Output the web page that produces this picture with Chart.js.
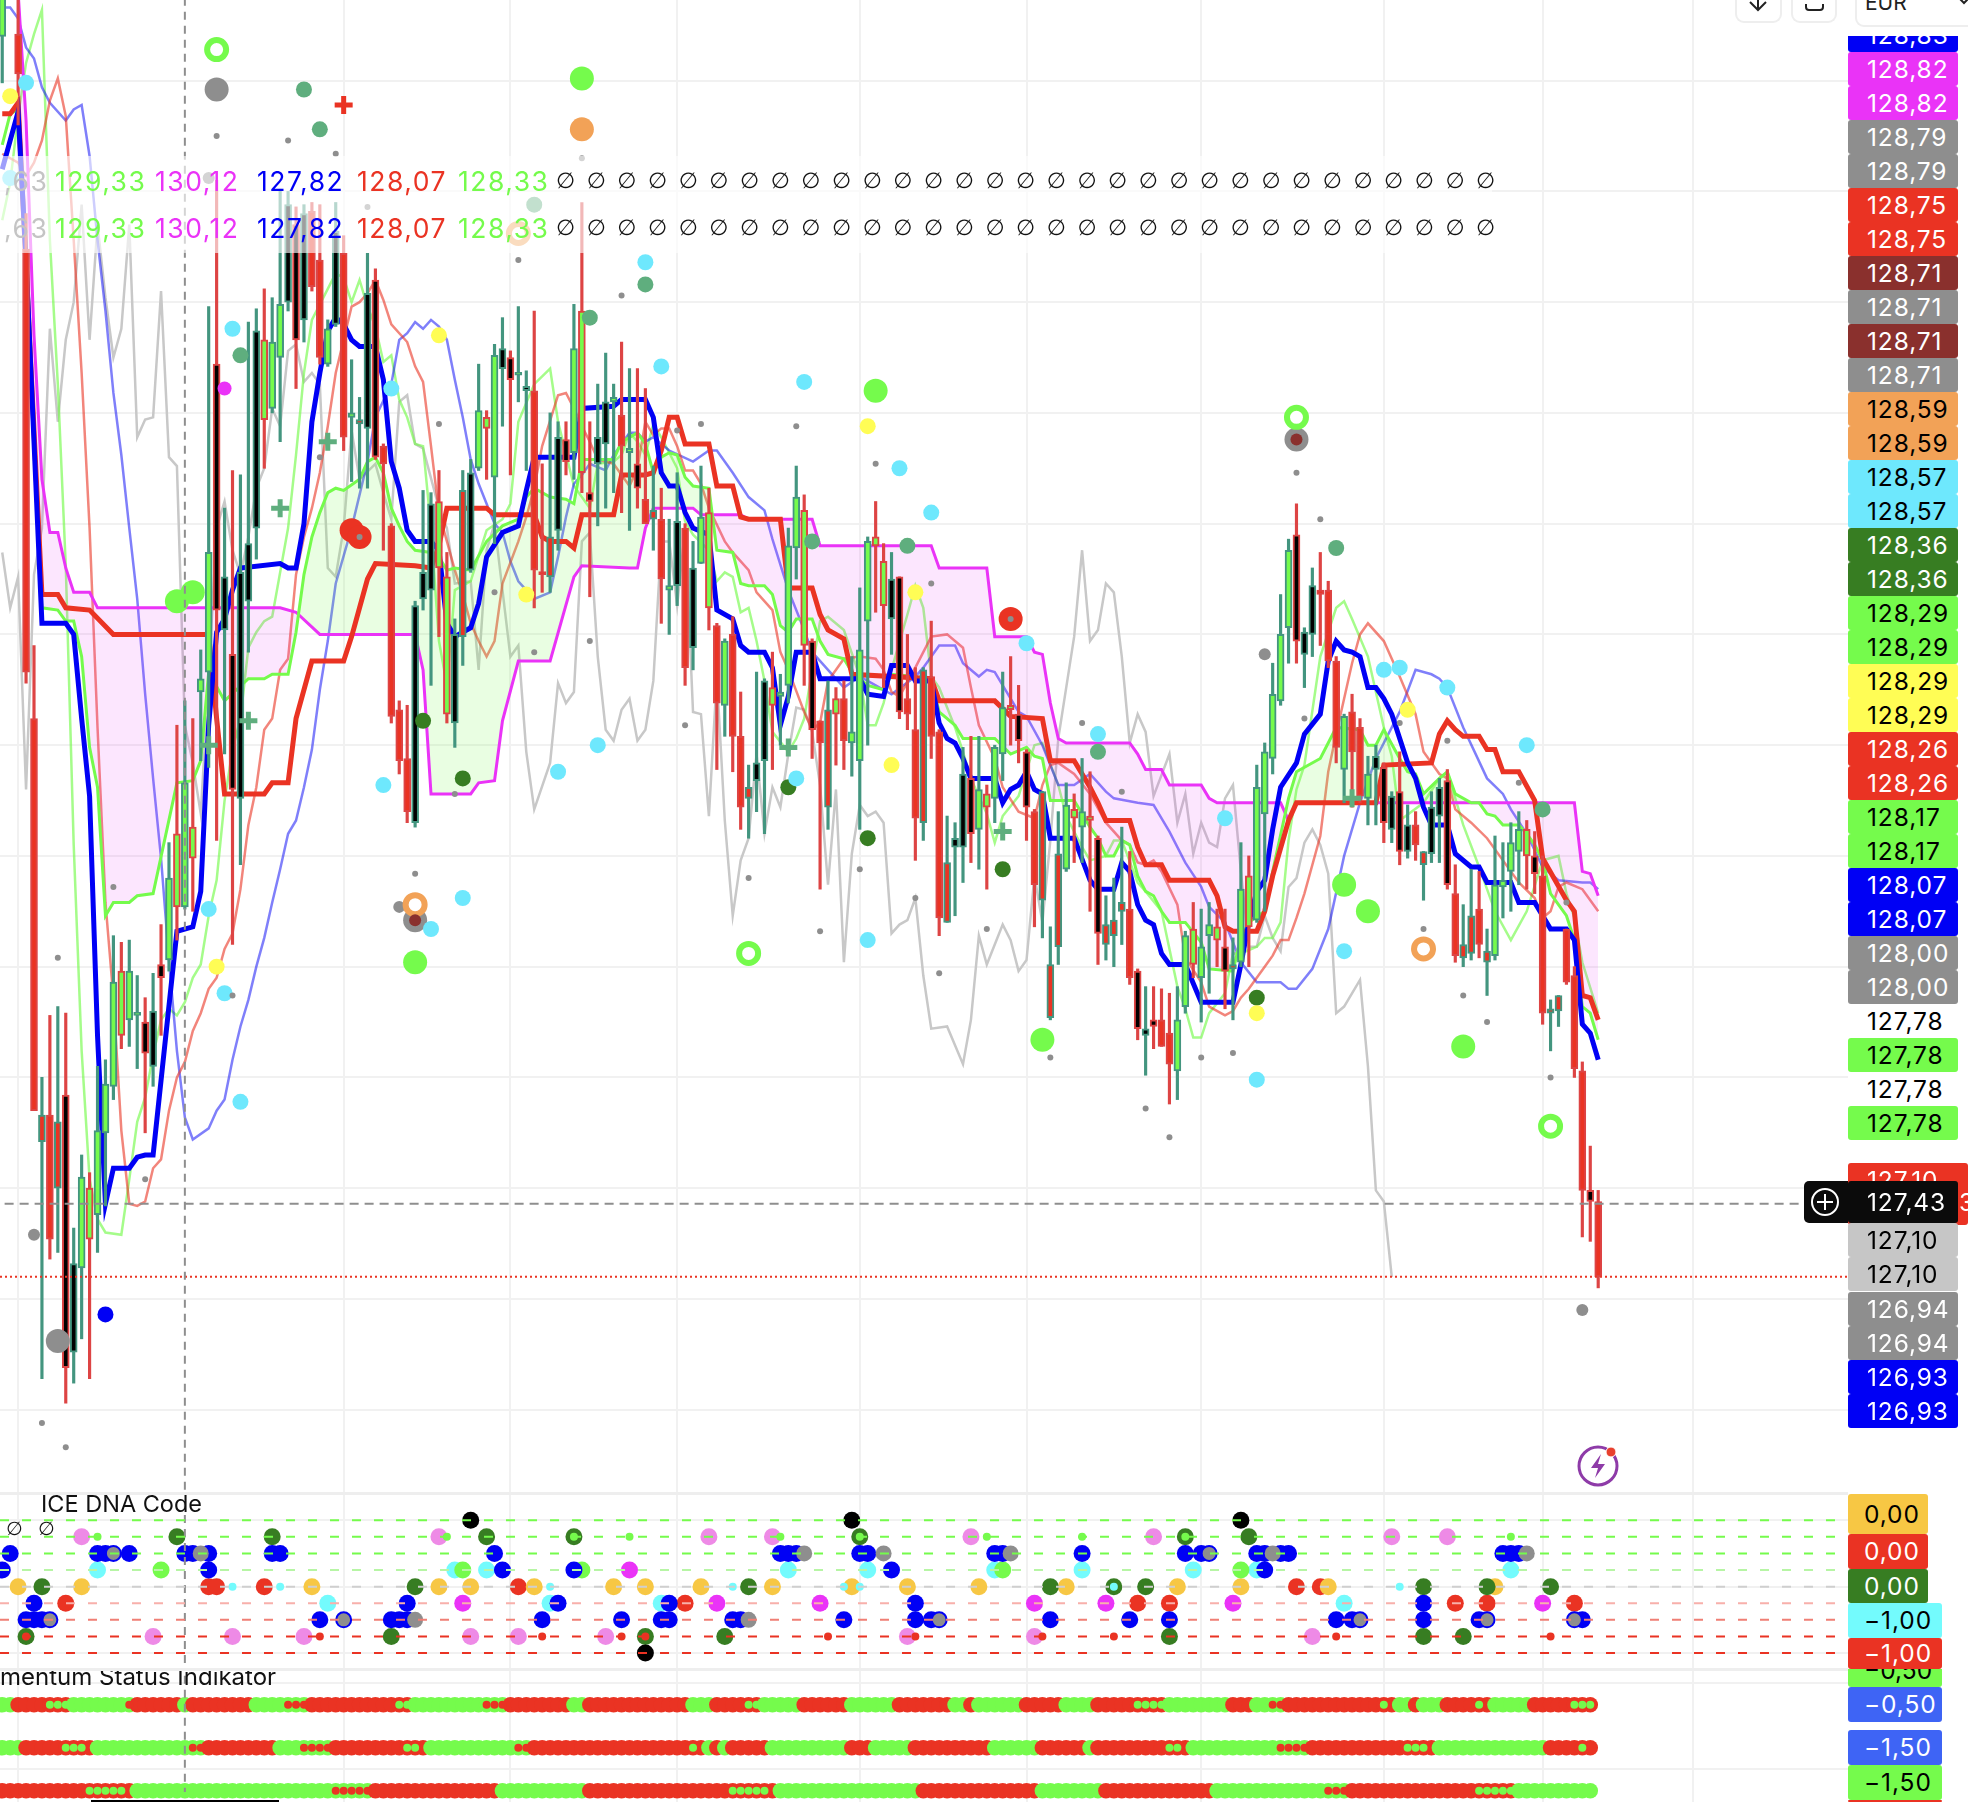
<!DOCTYPE html>
<html>
<head>
<meta charset="utf-8">
<title>ICE chart</title>
<script src="https://cdn.jsdelivr.net/npm/chart.js@4"></script>
<style>
  html, body { margin: 0; padding: 0; background: #fff; }
  #page { position: relative; width: 1968px; height: 1802px; overflow: hidden; font-family: Inter, "DejaVu Sans", sans-serif; }
  canvas { position: absolute; left: 0; }
  .abs { position: absolute; white-space: nowrap; }
  .tag { position: absolute; box-sizing: border-box; border-radius: 3px; line-height: 34px; font-size: 24.5px; white-space: nowrap; letter-spacing: 0.9px; }
  #band { position: absolute; left: 0; top: 156px; width: 1492px; height: 97px; background: rgba(255,255,255,0.62); }
  .legend { position: absolute; font-size: 26.5px; line-height: 30px; white-space: nowrap; letter-spacing: 1.5px; }
  .btn { position: absolute; box-sizing: border-box; border: 2px solid #eeeeee; border-top: none; border-radius: 0 0 9px 9px; background: #fff; }
</style>
</head>
<body>
<div id="page">
  <canvas id="mainChart" style="top:0" width="1848" height="1493"></canvas>
  <canvas id="dnaChart" style="top:1493px" width="1848" height="176"></canvas>
  <canvas id="momChart" style="top:1669px" width="1848" height="133"></canvas>
  <div id="band"></div>
  <div id="overlay"></div>
</div>
<script>
// ---- candles, one entry per bar
const candleHigh = [
  133.00,null,133.00,131.90,129.95,128.00,128.28,128.32,128.29,127.32,
  127.65,127.57,128.05,128.08,128.64,128.61,128.62,128.46,128.36,128.47,
  128.69,129.06,129.59,129.70,129.62,129.93,131.48,132.05,130.57,130.74,
  130.72,131.41,131.47,131.56,131.52,132.01,132.00,131.93,131.94,131.95,
  131.94,131.42,131.95,131.80,131.24,131.07,131.72,131.65,130.86,130.50,
  129.70,129.68,130.15,130.65,130.64,130.74,130.37,130.07,130.74,130.79,
  131.22,131.01,131.31,131.43,131.28,131.48,131.19,131.46,130.77,131.00,
  130.96,130.96,131.49,131.95,130.96,131.13,131.27,131.13,131.32,131.20,
  131.20,131.11,130.76,130.66,130.52,130.73,130.50,130.42,130.76,130.66,
  130.05,129.98,130.08,129.74,129.41,129.83,129.80,129.92,129.82,130.48,
  130.76,130.63,129.98,129.61,129.79,129.76,129.79,129.90,130.21,130.44,
  130.60,130.41,130.37,130.26,130.00,129.85,129.85,130.06,129.57,129.18,
  129.15,129.49,129.54,129.54,129.32,129.50,129.83,129.90,129.77,129.48,
  129.21,129.29,128.68,129.20,129.33,129.28,129.44,129.38,129.09,128.82,
  128.90,129.13,129.02,128.49,128.41,128.41,128.40,128.38,128.41,128.66,
  128.79,128.76,128.79,128.76,128.76,128.63,129.06,129.00,129.41,129.51,
  129.87,130.18,130.43,130.59,130.03,130.30,130.37,130.24,129.90,129.64,
  129.73,129.62,129.45,129.50,129.42,129.29,129.47,129.23,129.20,129.02,
  129.29,129.35,129.39,128.96,128.78,128.94,128.93,128.67,129.09,129.06,
  129.15,129.20,129.16,129.11,129.00,128.35,128.37,128.67,128.50,128.07,
  127.69,127.49
];
const candleLow = [
  132.49,null,132.30,129.78,127.85,126.64,127.18,127.21,126.53,126.62,
  126.82,126.64,127.21,127.42,127.90,128.13,128.14,128.04,127.75,127.96,
  128.19,128.48,128.62,128.76,128.75,129.43,129.40,129.07,129.46,128.60,
  128.96,129.92,130.34,130.75,131.00,130.87,131.46,131.11,131.32,131.55,
  131.22,131.21,131.39,130.83,130.69,130.66,130.66,130.79,130.38,129.60,
  129.37,129.15,129.13,130.11,129.77,129.99,129.60,129.49,129.86,130.28,
  130.74,130.70,130.41,130.94,130.72,131.05,130.74,130.12,130.19,130.19,
  130.38,130.72,130.70,130.64,130.17,130.49,130.57,130.64,130.55,130.47,
  130.57,130.50,130.38,130.05,130.00,130.13,129.77,129.84,130.32,130.02,
  129.39,129.54,129.38,129.12,129.08,129.20,129.10,129.39,129.50,129.69,
  130.25,129.77,129.44,128.85,129.12,129.41,129.39,129.36,129.12,129.50,
  130.10,129.76,129.91,129.62,129.57,128.98,129.07,129.44,128.64,128.70,
  128.73,128.88,128.97,128.94,128.85,129.15,129.34,129.50,129.42,129.07,
  128.68,128.63,128.26,128.51,128.93,128.97,128.97,128.75,128.51,128.53,
  128.50,128.60,128.42,128.17,128.01,128.13,128.14,127.88,127.90,128.29,
  128.45,128.25,128.38,128.50,128.31,128.26,128.50,128.50,128.70,128.75,
  129.37,129.68,129.87,129.87,129.76,129.90,129.95,129.85,129.42,129.24,
  129.22,129.24,129.14,129.14,129.06,129.06,128.96,128.99,128.98,128.80,
  128.97,128.97,128.85,128.52,128.50,128.53,128.54,128.37,128.53,128.72,
  128.75,128.87,128.85,128.83,128.24,128.12,128.23,128.42,128.00,127.28,
  127.26,127.05
];
const candleTop = [
  132.90,null,132.71,131.74,129.62,127.83,127.83,127.80,127.92,127.16,
  127.55,127.50,127.76,127.97,128.43,128.48,128.48,128.29,128.25,128.30,
  128.51,128.90,129.10,129.33,129.13,129.80,130.37,131.22,130.26,129.91,
  130.28,130.41,131.37,131.33,131.32,131.49,131.94,131.85,131.90,131.91,
  131.69,131.38,131.82,131.72,131.00,130.97,131.54,131.60,130.85,130.49,
  129.66,129.44,130.13,130.28,130.59,130.60,130.26,130.00,130.65,130.73,
  131.01,130.98,131.26,131.29,131.25,131.18,131.12,131.10,130.28,130.44,
  130.89,130.88,131.29,131.46,130.64,130.89,131.05,131.07,130.99,130.84,
  130.77,130.61,130.56,130.52,130.22,130.51,130.48,130.30,130.53,130.55,
  130.04,129.97,130.00,129.54,129.31,129.42,129.79,129.76,129.74,130.40,
  130.62,130.56,129.97,129.61,129.66,129.71,129.71,129.56,129.93,130.42,
  130.44,130.33,130.25,130.26,129.71,129.57,129.84,129.81,129.56,128.97,
  129.08,129.37,129.35,129.30,129.28,129.49,129.67,129.68,129.64,129.47,
  129.20,129.29,128.51,129.01,129.23,129.21,129.20,129.18,129.08,128.69,
  128.71,128.79,128.76,128.48,128.22,128.26,128.26,128.20,128.26,128.64,
  128.67,128.59,128.69,128.68,128.59,128.51,128.85,128.91,129.31,129.47,
  129.73,130.00,130.38,130.45,130.01,130.22,130.20,130.20,129.88,129.63,
  129.65,129.58,129.37,129.45,129.40,129.27,129.29,129.14,129.14,129.02,
  129.22,129.31,129.34,128.83,128.60,128.73,128.76,128.57,128.87,128.89,
  129.06,129.12,129.12,129.00,128.91,128.31,128.37,128.67,128.46,128.03,
  127.49,127.44
];
const candleBottom = [
  132.70,null,132.53,129.83,127.85,127.71,127.27,127.50,126.69,126.76,
  127.14,127.27,127.38,127.75,127.96,128.19,128.26,128.28,128.11,128.05,
  128.45,128.53,128.77,128.77,128.99,129.74,129.83,130.11,130.02,129.30,
  129.26,130.15,130.48,130.97,131.02,131.25,131.50,131.33,131.42,131.57,
  131.25,131.22,131.40,130.89,130.98,130.95,130.93,130.80,130.77,129.63,
  129.43,129.20,129.15,130.16,130.20,130.30,129.64,129.60,129.99,130.29,
  130.75,130.93,130.71,131.20,131.15,131.17,131.10,130.29,130.27,130.26,
  130.47,130.78,130.82,130.73,130.60,130.77,130.86,131.05,130.85,130.82,
  130.66,130.50,130.52,130.25,130.20,130.22,129.85,129.94,130.32,130.12,
  129.69,129.68,129.54,129.22,129.26,129.34,129.43,129.68,129.72,129.77,
  130.39,129.95,129.57,129.51,129.22,129.64,129.52,129.51,129.43,130.06,
  130.40,130.13,130.07,129.65,129.64,129.17,129.15,129.54,128.72,128.70,
  129.04,129.04,129.10,129.12,129.22,129.26,129.46,129.66,129.52,129.22,
  128.87,128.80,128.27,128.59,128.94,129.17,129.13,129.16,128.65,128.60,
  128.64,128.75,128.45,128.22,128.19,128.23,128.14,128.06,128.03,128.32,
  128.51,128.45,128.64,128.62,128.48,128.49,128.52,128.68,128.71,129.19,
  129.44,129.70,130.03,129.97,129.91,130.00,130.18,129.88,129.49,129.39,
  129.47,129.27,129.26,129.39,129.15,129.12,129.02,129.02,129.05,128.96,
  129.01,129.18,128.87,128.55,128.54,128.56,128.60,128.52,128.55,128.86,
  128.93,129.02,129.00,128.92,128.29,128.29,128.30,128.43,128.04,127.49,
  127.44,127.10
];
// L teal+lime, B teal+black, T teal+red, R solid red, K red+black, M red+lime
const candleKind = (
  'LxRRRTRTKB' + 'LMLLLMLLKB' + 'KLMLMLLKBK' + 'BBBMLLBKBR' + 'RLBRLTBKRR' +
  'RRBBBMMBTB' + 'LMLBKLBRRT' + 'BKLMKBBLRL' + 'KRTRLBRBLM' + 'RLRRTBBMLL' +
  'LMKRTMRLLL' + 'MMBKRRTRRT' + 'BBKLMLLMKK' + 'RTTTLMLMKT' + 'TTRKBKRRLL' +
  'MLLMKTLMLL' + 'LLLKBBRRRL' + 'RRLBKBKBRT' + 'BBKRTTRTLL' + 'LLMKRTTRRR' + 'KR'
).split('');

// ---- indicator lines as [bar, price] vertices
const fastBlue = [[0,132.10],[2,132.36],[3,131.69],[5,130.05],[8,130.05],[9,130.00],[10,129.62],[11,129.27],[12,128.19],[13,127.43],[14,127.59],[16,127.59],[17,127.64],[18,127.65],[19,127.65],[22,128.66],[24,128.68],[25,128.84],[26,129.59],[27,130.01],[28,130.07],[29,130.20],[30,130.30],[35,130.32],[36,130.30],[37,130.30],[38,130.50],[39,130.96],[40,131.18],[41,131.37],[42,131.43],[43,131.40],[44,131.33],[45,131.30],[47,131.30],[48,131.15],[49,130.78],[50,130.66],[51,130.47],[52,130.42],[54,130.42],[55,130.38],[56,130.05],[57,129.99],[59,130.03],[60,130.14],[61,130.35],[63,130.46],[65,130.49],[66,130.65],[67,130.80],[72,130.80],[73,131.02],[77,131.03],[78,131.06],[81,131.06],[82,130.98],[83,130.73],[84,130.67],[85,130.67],[86,130.55],[87,130.48],[89,130.45],[90,130.11],[92,130.07],[93,129.95],[94,129.92],[96,129.92],[97,129.85],[98,129.59],[99,129.72],[100,129.92],[102,129.92],[103,129.80],[108,129.80],[109,129.73],[111,129.72],[112,129.86],[114,129.86],[115,129.79],[117,129.79],[118,129.60],[119,129.53],[120,129.51],[121,129.44],[122,129.35],[125,129.35],[126,129.24],[127,129.30],[128,129.32],[129,129.38],[130,129.30],[131,129.28],[132,129.08],[135,129.08],[137,128.89],[138,128.85],[140,128.85],[141,128.97],[142,128.93],[143,128.78],[144,128.71],[145,128.69],[146,128.56],[147,128.51],[149,128.51],[151,128.34],[155,128.34],[156,128.51],[157,128.70],[158,128.84],[159,128.89],[160,129.12],[161,129.31],[163,129.42],[164,129.55],[166,129.64],[167,129.88],[168,129.97],[169,129.93],[170,129.92],[171,129.90],[172,129.76],[173,129.76],[174,129.71],[175,129.64],[177,129.42],[178,129.35],[179,129.22],[180,129.14],[182,129.14],[183,129.01],[185,128.95],[186,128.95],[187,128.88],[190,128.88],[191,128.79],[193,128.79],[195,128.67],[197,128.67],[198,128.62],[199,128.24],[200,128.20],[201,128.08]];
const slowRed = [[0,132.35],[1,132.35],[2,132.40],[5,130.18],[7,130.18],[8,130.12],[11,130.11],[14,130.00],[26,130.00],[27,129.62],[28,129.28],[33,129.28],[34,129.33],[36,129.33],[37,129.62],[39,129.88],[43,129.88],[44,129.99],[46,130.25],[47,130.32],[52,130.31],[54,130.30],[55,130.40],[56,130.57],[61,130.57],[62,130.54],[67,130.54],[68,130.44],[69,130.42],[71,130.42],[72,130.39],[73,130.54],[77,130.54],[78,130.72],[81,130.72],[82,130.73],[83,130.83],[84,130.98],[85,130.98],[86,130.86],[89,130.86],[90,130.67],[92,130.67],[93,130.53],[94,130.52],[98,130.52],[99,130.21],[102,130.21],[103,130.09],[104,130.02],[106,129.98],[107,129.82],[117,129.80],[118,129.70],[125,129.70],[127,129.63],[131,129.62],[132,129.43],[135,129.43],[137,129.31],[138,129.24],[139,129.16],[142,129.16],[143,129.04],[144,128.96],[146,128.96],[147,128.89],[152,128.89],[153,128.82],[154,128.68],[155,128.66],[158,128.66],[159,128.75],[160,128.91],[162,129.16],[163,129.24],[173,129.24],[174,129.41],[180,129.42],[181,129.55],[182,129.61],[183,129.57],[184,129.54],[186,129.54],[187,129.48],[188,129.48],[189,129.38],[191,129.38],[193,129.25],[194,128.99],[197,128.80],[198,128.75],[199,128.37],[200,128.36],[201,128.26]];
const cloudMagenta = [[2,132.90],[3,132.32],[4,131.35],[5,130.70],[6,130.46],[7,130.46],[8,130.30],[9,130.19],[11,130.19],[12,130.12],[35,130.12],[37,130.10],[40,130.00],[52,130.00],[53,129.84],[54,129.28],[59,129.28],[60,129.33],[62,129.34],[63,129.61],[65,129.88],[69,129.88],[72,130.26],[73,130.31],[79,130.30],[80,130.30],[81,130.48],[82,130.57],[87,130.57],[88,130.54],[93,130.54],[94,130.52],[102,130.52],[103,130.40],[117,130.40],[118,130.30],[124,130.30],[125,129.99],[129,129.99],[130,129.92],[131,129.91],[132,129.69],[133,129.53],[134,129.51],[142,129.51],[143,129.46],[144,129.39],[146,129.39],[147,129.32],[151,129.32],[152,129.26],[153,129.24],[161,129.24],[162,129.16],[163,129.24],[198,129.24],[199,128.93],[200,128.92],[201,128.82]];
const cloudGreen = [[0,132.21],[1,132.35],[2,132.37],[3,131.78],[5,130.12],[7,130.11],[8,130.06],[9,130.06],[10,129.90],[11,129.49],[12,129.31],[13,128.73],[14,128.79],[16,128.79],[17,128.82],[19,128.83],[22,129.33],[24,129.34],[25,129.43],[26,129.83],[28,129.70],[31,129.80],[33,129.80],[34,129.82],[36,129.82],[37,130.01],[38,130.27],[39,130.44],[40,130.55],[41,130.64],[42,130.66],[43,130.65],[45,130.70],[46,130.78],[47,130.80],[48,130.73],[49,130.57],[50,130.49],[51,130.42],[52,130.38],[54,130.37],[55,130.35],[56,130.29],[57,130.30],[59,130.29],[61,130.42],[63,130.49],[65,130.52],[66,130.62],[67,130.66],[69,130.62],[71,130.61],[72,130.59],[73,130.79],[77,130.79],[78,130.87],[80,130.91],[81,130.86],[82,130.73],[83,130.80],[84,130.82],[85,130.81],[86,130.71],[87,130.67],[89,130.66],[90,130.38],[92,130.37],[93,130.23],[94,130.22],[96,130.22],[97,130.18],[98,130.04],[99,130.01],[100,130.07],[102,130.07],[103,129.97],[104,129.91],[106,129.89],[107,129.83],[109,129.77],[111,129.75],[112,129.82],[115,129.81],[117,129.79],[118,129.65],[120,129.59],[121,129.53],[122,129.53],[125,129.53],[127,129.46],[129,129.49],[130,129.45],[131,129.44],[132,129.25],[135,129.25],[137,129.13],[138,129.08],[139,129.00],[140,129.00],[141,129.07],[142,129.05],[143,128.91],[144,128.84],[145,128.82],[146,128.75],[147,128.70],[149,128.70],[151,128.61],[152,128.49],[155,128.48],[156,128.63],[157,128.70],[159,128.75],[160,128.93],[162,129.26],[163,129.38],[166,129.44],[168,129.58],[171,129.57],[172,129.50],[173,129.50],[174,129.57],[176,129.44],[177,129.38],[178,129.37],[179,129.28],[181,129.35],[182,129.38],[183,129.28],[185,129.24],[186,129.24],[187,129.19],[188,129.18],[189,129.14],[191,129.14],[192,129.10],[193,129.05],[194,128.98],[195,128.83],[197,128.73],[198,128.62],[199,128.32],[200,128.29],[201,128.17]];
const thinRed = [[0,132.17],[2,132.13],[3,132.07],[4,132.13],[5,132.23],[6,132.41],[7,132.51],[8,132.34],[9,131.78],[10,131.18],[11,130.48],[12,129.58],[13,128.79],[14,128.36],[15,127.76],[16,127.43],[17,127.42],[18,127.44],[19,127.59],[20,127.63],[21,127.85],[22,128.00],[23,128.07],[24,128.21],[25,128.29],[26,128.40],[27,128.45],[28,128.58],[29,128.65],[30,128.85],[31,129.14],[32,129.31],[33,129.57],[34,129.62],[35,129.84],[36,129.89],[37,130.27],[38,130.44],[39,130.57],[40,130.73],[41,130.94],[42,131.18],[44,131.48],[45,131.50],[46,131.54],[47,131.60],[48,131.51],[49,131.40],[51,131.32],[52,131.21],[53,131.14],[54,130.85],[55,130.55],[57,130.29],[58,130.18],[59,130.05],[60,129.97],[61,129.90],[62,129.97],[63,130.23],[65,130.42],[66,130.53],[67,130.66],[68,130.85],[70,131.08],[71,131.09],[72,131.02],[73,130.94],[74,130.87],[75,130.79],[77,130.77],[78,130.72],[79,130.67],[80,130.75],[81,130.96],[82,130.90],[83,130.93],[84,130.93],[85,130.85],[86,130.74],[87,130.74],[88,130.68],[89,130.57],[91,130.42],[92,130.37],[94,130.29],[95,130.19],[97,130.11],[98,129.92],[99,129.84],[101,129.65],[102,129.57],[103,129.60],[104,129.79],[106,129.89],[108,129.90],[110,129.89],[111,129.84],[112,129.74],[113,129.72],[115,129.85],[117,129.99],[119,130.00],[121,129.94],[122,129.76],[123,129.59],[125,129.44],[126,129.31],[128,129.20],[130,129.17],[131,129.32],[132,129.41],[133,129.42],[135,129.37],[137,129.28],[139,129.15],[141,129.07],[142,129.05],[143,128.97],[144,128.96],[145,128.98],[146,128.93],[148,128.78],[149,128.54],[151,128.43],[152,128.32],[154,128.28],[155,128.30],[156,128.36],[157,128.40],[159,128.50],[160,128.55],[161,128.62],[162,128.62],[163,128.72],[164,128.83],[166,129.09],[167,129.38],[168,129.55],[170,129.87],[171,130.00],[172,130.05],[174,129.97],[176,129.81],[178,129.64],[179,129.47],[181,129.37],[182,129.35],[183,129.21],[185,129.15],[187,129.08],[189,128.98],[191,128.88],[193,128.81],[194,128.72],[195,128.75],[196,128.86],[197,128.88],[199,128.85],[200,128.80],[201,128.75]];
const thinBlue = [[0,132.83],[1,132.83],[2,132.78],[3,132.65],[4,132.60],[5,132.47],[6,132.40],[8,132.32],[9,132.37],[10,132.39],[11,132.16],[12,131.78],[13,131.46],[14,131.09],[15,130.81],[16,130.48],[17,130.16],[18,129.73],[19,129.35],[20,128.99],[21,128.53],[22,128.12],[23,127.82],[24,127.72],[26,127.77],[27,127.85],[28,127.90],[29,128.08],[30,128.23],[31,128.35],[32,128.50],[33,128.63],[34,128.79],[35,128.94],[36,129.10],[37,129.16],[38,129.31],[39,129.48],[40,129.75],[41,129.97],[42,130.23],[44,130.48],[46,130.78],[47,130.98],[49,131.13],[50,131.33],[51,131.36],[52,131.41],[53,131.38],[54,131.42],[55,131.39],[56,131.33],[57,131.15],[58,130.98],[59,130.79],[60,130.68],[61,130.59],[62,130.50],[63,130.46],[64,130.33],[65,130.24],[66,130.20],[67,130.16],[69,130.19],[70,130.35],[71,130.53],[72,130.68],[73,130.72],[74,130.77],[76,130.74],[77,130.81],[78,130.86],[79,130.91],[80,130.91],[81,130.87],[82,130.89],[84,130.83],[87,130.78],[89,130.83],[90,130.83],[92,130.73],[94,130.62],[96,130.56],[97,130.43],[99,130.20],[101,130.02],[102,129.92],[104,129.84],[106,129.76],[108,129.81],[110,129.77],[112,129.73],[115,129.81],[116,129.85],[118,129.95],[120,129.95],[121,129.87],[123,129.81],[124,129.84],[125,129.83],[128,129.65],[129,129.63],[131,129.50],[133,129.32],[135,129.32],[137,129.37],[139,129.29],[140,129.26],[143,129.24],[145,129.23],[147,129.11],[149,128.97],[151,128.86],[152,128.77],[154,128.70],[156,128.52],[158,128.43],[161,128.43],[162,128.40],[163,128.40],[165,128.49],[167,128.67],[169,129.00],[171,129.24],[173,129.44],[176,129.65],[178,129.84],[180,129.82],[181,129.80],[182,129.76],[184,129.58],[187,129.35],[189,129.28],[190,129.21],[192,129.10],[194,128.95],[196,128.89],[199,128.88],[200,128.88],[201,128.85]];
const thinGreen = [[0,131.87],[1,132.04],[2,132.34],[3,132.58],[4,132.71],[5,132.82],[6,131.78],[7,131.13],[8,130.31],[9,129.05],[10,128.12],[11,127.54],[12,127.36],[13,127.30],[15,127.29],[16,127.54],[17,127.80],[18,127.91],[19,128.10],[20,128.26],[21,128.31],[22,128.28],[23,128.34],[24,128.45],[25,128.51],[26,128.73],[27,128.89],[28,129.25],[29,129.48],[30,129.62],[31,129.94],[32,130.01],[33,130.06],[34,130.08],[36,130.48],[37,130.81],[38,131.18],[39,131.42],[41,131.56],[42,131.63],[43,131.61],[44,131.50],[45,131.60],[46,131.48],[47,131.39],[48,131.23],[49,131.26],[50,131.06],[51,130.98],[52,130.86],[53,130.85],[54,130.48],[55,129.97],[56,129.77],[57,130.20],[59,130.24],[61,130.47],[63,130.52],[64,130.59],[65,130.96],[67,131.13],[69,131.20],[70,130.96],[72,130.67],[74,130.57],[75,130.77],[77,130.78],[78,130.81],[79,130.91],[80,130.87],[81,130.81],[82,130.95],[83,130.89],[84,130.82],[85,130.75],[86,130.51],[87,130.45],[89,130.38],[90,130.24],[91,130.28],[92,130.26],[93,130.10],[94,130.12],[95,129.97],[96,129.79],[97,129.56],[99,129.47],[100,129.53],[101,129.62],[102,129.84],[103,130.06],[104,130.08],[106,130.02],[108,129.81],[109,129.59],[110,129.59],[111,129.69],[112,129.84],[114,130.09],[115,130.22],[116,130.12],[117,129.81],[118,129.76],[120,129.58],[121,129.47],[122,129.35],[124,129.19],[125,129.06],[126,129.18],[128,129.27],[130,129.50],[131,129.51],[133,129.32],[134,129.18],[136,129.04],[137,128.98],[139,129.00],[140,129.07],[141,129.07],[143,128.88],[144,128.84],[146,128.75],[148,128.41],[149,128.31],[150,128.18],[151,128.18],[152,128.29],[154,128.38],[155,128.56],[156,128.56],[158,128.59],[159,128.63],[160,128.63],[161,128.70],[162,129.07],[163,129.30],[164,129.41],[166,129.90],[168,130.12],[169,130.15],[170,130.07],[172,129.90],[174,129.58],[175,129.45],[176,129.16],[179,129.24],[181,129.35],[182,129.38],[184,129.14],[186,128.95],[188,128.75],[190,128.62],[192,128.75],[194,128.98],[196,129.00],[197,128.83],[198,128.72],[199,128.52],[201,128.29]];
const thinGray = [[0,130.37],[1,130.12],[2,130.26],[3,129.30],[4,130.27],[5,130.48],[6,131.38],[7,130.96],[8,131.33],[9,131.50],[10,131.94],[11,131.33],[12,131.85],[13,131.52],[14,131.25],[15,131.38],[16,131.85],[17,130.89],[18,130.97],[19,130.98],[20,131.55],[21,130.80],[22,130.76],[23,129.59],[24,129.42],[25,129.19],[26,129.80],[27,130.48],[28,130.60],[29,130.38],[30,130.27],[31,130.44],[32,130.66],[33,130.75],[34,131.02],[35,130.94],[36,131.28],[37,131.31],[38,131.14],[39,131.18],[40,131.13],[41,130.30],[42,130.26],[43,130.48],[44,130.92],[45,130.70],[47,130.77],[48,130.64],[49,130.52],[50,131.05],[51,131.08],[52,130.86],[53,130.84],[55,130.57],[56,130.48],[57,130.23],[59,130.24],[60,129.84],[61,130.38],[62,130.50],[64,129.90],[65,129.95],[66,129.47],[67,129.21],[69,129.42],[70,129.78],[71,129.69],[72,129.74],[73,130.42],[74,130.46],[75,129.90],[76,129.57],[77,129.52],[78,129.66],[79,129.71],[80,129.52],[81,129.57],[82,129.79],[83,130.42],[84,130.42],[85,130.13],[86,130.48],[87,129.65],[88,129.64],[89,129.18],[90,129.81],[91,129.16],[92,128.73],[93,128.98],[94,129.08],[95,129.46],[96,129.10],[97,129.31],[98,129.22],[99,129.46],[100,129.67],[101,129.66],[102,129.56],[103,129.32],[104,128.87],[105,129.30],[106,128.52],[107,129.01],[108,129.23],[109,129.18],[110,129.20],[111,129.15],[112,128.65],[113,128.69],[114,128.71],[115,128.81],[116,128.46],[117,128.22],[119,128.23],[121,128.06],[122,128.26],[123,128.64],[124,128.51],[126,128.69],[127,128.62],[128,128.48],[129,128.53],[130,128.91],[131,128.70],[132,129.07],[133,129.53],[135,129.99],[136,130.38],[137,129.97],[138,130.02],[139,130.23],[140,130.19],[141,129.90],[142,129.51],[143,129.64],[144,129.56],[145,129.27],[147,129.46],[148,129.15],[149,129.28],[150,129.01],[151,129.15],[152,129.06],[153,129.04],[154,129.26],[155,129.32],[156,128.93],[157,128.59],[158,128.59],[159,128.73],[160,128.63],[161,128.57],[162,128.86],[163,128.90],[164,129.06],[165,129.12],[166,129.05],[167,128.92],[168,128.29],[169,128.32],[171,128.44],[172,128.05],[173,127.49],[174,127.44],[175,127.10]];

// ---- markers on the price pane, [bar, price]
const dotCyan = [[1,132.06],[3,132.49],[29,131.38],[49,131.11],[48,129.32],[26,128.76],[28,128.38],[30,127.89],[54,128.67],[58,128.81],[70,129.38],[75,129.50],[81,131.68],[83,131.21],[101,131.14],[113,130.75],[117,130.55],[100,129.35],[109,128.62],[129,129.96],[138,129.55],[154,129.17],[169,128.57],[158,127.99],[174,129.84],[176,129.85],[182,129.76],[192,129.50]];
const dotYellow = [[1,132.43],[55,131.35],[27,128.50],[115,130.19],[109,130.94],[112,129.41],[66,130.18],[177,129.66],[158,128.29]];
const dotGreenBig = [[22,130.15],[24,130.19],[73,132.51],[52,128.52],[110,131.10],[169,128.87],[172,128.75],[131,128.17],[184,128.14]];
const ringGreen = [[27,132.64],[94,128.56],[163,130.98],[195,127.78]];
const dotGrayBig = [[27,132.46],[7,126.81],[52,128.71],[163,130.88]];
const dotDarkRed = [[52,128.71],[163,130.88]];
const ringOrange = [[52,128.78],[179,128.58],[65,131.81]];
const dotOrangeBig = [[73,132.28]];
const dotGrayMid = [[4,127.29],[50,128.77],[159,129.91],[26,132.06],[199,126.95]];
const dotGraySmall = [[27,132.25],[36,132.23],[42,132.17],[73,132.15],[46,131.93],[65,131.69],[78,131.53],[55,130.95],[40,130.80],[62,130.19],[74,129.97],[67,129.92],[14,128.86],[7,128.54],[18,127.54],[29,128.37],[52,128.92],[5,126.44],[8,126.33],[57,129.28],[85,130.92],[88,130.95],[100,130.94],[110,130.77],[117,130.23],[86,129.59],[94,128.90],[103,128.66],[108,128.94],[115,128.81],[118,128.47],[124,128.67],[136,129.60],[141,129.29],[132,128.09],[151,128.09],[155,128.11],[144,127.86],[147,127.73],[163,130.73],[166,130.52],[164,129.62],[176,129.60],[182,129.52],[191,129.33],[179,128.67],[184,128.37],[187,128.25],[195,128.00],[197,128.79],[45,130.44],[127,130.07]];
const dotDarkGreen = [[53,129.61],[58,129.35],[99,129.31],[109,129.08],[126,128.94],[158,128.36]];
const dotMidGreen = [[38,132.46],[40,132.28],[67,131.94],[81,131.58],[74,131.43],[30,131.26],[102,130.42],[114,130.40],[138,129.47],[194,129.21],[168,130.39]];
const plusGreen = [[41,130.87],[35,130.57],[31,129.61],[26,129.50],[99,129.49],[126,129.11],[170,129.26]];
const plusRed = [[43,132.39]];
const dotRedBig = [[44,130.47],[45,130.44],[127,130.07]];
const dotMagenta = [[28,131.11]];
const dotBlue = [[13,126.93]];

// ---- reference lines and grids
const crossBar = 23;
const crossPrice = 127.43;
const lastPrice = 127.10;
const priceGrid = [132.5,132,131.5,131,130.5,130,129.5,129,128.5,128,127.5,127,126.5];
const barGrid = [2,43,64,85,108,129,151,174,194,213];

// ---- ICE DNA pane, [bar, level]
const dnaLevels = [4,3,2,1,0,-1,-2,-3,-4];
const dnaBlack = [[59,4],[107,4],[156,4],[81,-4]];
const dnaPink = [[10,3],[55,3],[89,3],[97,3],[122,3],[145,3],[175,3],[182,3],[19,-3],[29,-3],[38,-3],[59,-3],[65,-3],[76,-3],[114,-3],[130,-3],[165,-3]];
const dnaGreenSmall = [[12,3],[56,3],[79,3],[98,3],[124,3],[136,3],[190,3],[72,3],[108,3],[149,3]];
const dnaDarkGreen = [[22,3],[34,3],[61,3],[157,3],[72,3],[108,3],[149,3],[5,0],[52,0],[94,0],[132,0],[140,0],[144,0],[179,0],[187,0],[195,0],[3,-3],[49,-3],[81,-3],[91,-3],[147,-3],[179,-3],[184,-3]];
const dnaBlue = [[1,2],[12,2],[13,2],[16,2],[23,2],[24,2],[26,2],[34,2],[35,2],[62,2],[98,2],[99,2],[100,2],[108,2],[109,2],[125,2],[126,2],[136,2],[149,2],[151,2],[158,2],[159,2],[161,2],[162,2],[189,2],[190,2],[191,2],[0,1],[26,1],[63,1],[72,1],[112,1],[159,1],[4,-1],[51,-1],[70,-1],[84,-1],[115,-1],[179,-1],[3,-2],[4,-2],[5,-2],[40,-2],[49,-2],[50,-2],[51,-2],[68,-2],[78,-2],[83,-2],[84,-2],[92,-2],[93,-2],[106,-2],[115,-2],[117,-2],[132,-2],[142,-2],[147,-2],[168,-2],[170,-2],[179,-2],[186,-2],[199,-2]];
const dnaGrayRing = [[14,2],[152,2],[6,-2],[43,-2],[118,-2],[171,-2],[187,-2],[198,-2]];
const dnaGray = [[25,2],[101,2],[111,2],[127,2],[160,2],[192,2],[52,-2],[94,-2]];
const dnaCyan = [[12,1],[57,1],[61,1],[99,1],[109,1],[125,1],[136,1],[150,1],[158,1],[190,1],[41,-1],[69,-1],[83,-1],[169,-1]];
const dnaGreen = [[20,1],[58,1],[73,1],[126,1],[156,1]];
const dnaMagenta = [[79,1],[58,-1],[90,-1],[103,-1],[130,-1],[139,-1],[155,-1],[194,-1]];
const dnaOrange = [[2,0],[10,0],[39,0],[55,0],[59,0],[67,0],[77,0],[81,0],[88,0],[97,0],[107,0],[114,0],[123,0],[134,0],[148,0],[156,0],[167,0],[188,0]];
const dnaRed = [[26,0],[27,0],[33,0],[65,0],[163,0],[166,0],[8,-1],[86,-1],[143,-1],[147,-1],[183,-1],[187,-1],[198,-1]];
const dnaCyanSmall = [[29,0],[35,0],[69,0],[92,0],[106,0],[108,0],[140,0],[176,0]];
const dnaRedSmall = [[3,-3],[40,-3],[68,-3],[78,-3],[81,-3],[104,-3],[115,-3],[131,-3],[140,-3],[168,-3],[195,-3]];

// ---- momentum pane: red runs on a green band, small dots of the other colour
const momLevels = [-0.5,-1,-1.5];
const momGrid = [-0.25,-1.25];
const momLastBar = 200;
const momRedRuns1 = [[2,8],[17,22],[24,24],[25,31],[39,45],[46,51],[64,71],[74,78],[79,86],[90,90],[91,95],[101,106],[113,119],[122,122],[129,133],[138,146],[155,157],[162,172],[173,175],[178,178],[182,187],[193,200]];
const momRedRuns2 = [[3,11],[26,34],[42,53],[67,76],[77,88],[90,90],[92,96],[107,109],[115,124],[131,136],[138,139],[140,149],[165,180],[195,200]];
const momRedRuns3 = [[0,16],[47,62],[74,97],[116,130],[139,152],[170,190]];
const momGreenDots1 = [6,7,8,50,51,94,95,143,144,145,146,174,186,198,199,200];
const momGreenDots2 = [8,9,10,51,52,87,147,148,177,178,179,199];
const momGreenDots3 = [11,12,13,14,15,92,93,94,95,96,186,187,188,189,190];
const momRedDots1 = [16,36,37,38,61,62,63,160,161];
const momRedDots2 = [24,25,38,39,40,41,65,66,161,162,163,164];
const momRedDots3 = [42,43,44,45,46,167,168,169];

// ---- labels
const legendValues = [',63','129,33','130,12','127,82','128,07','128,33'];
const legendEmptyCount = 31;
const tagValues = ['128,83','128,82','128,82','128,79','128,79','128,75','128,75','128,71','128,71','128,71','128,71','128,59','128,59','128,57','128,57','128,36','128,36','128,29','128,29','128,29','128,29','128,26','128,26','128,17','128,17','128,07','128,07','128,00','128,00','127,78','127,78','127,78','127,78'];
const lowerTagValues = ['127,10','127,10','126,94','126,94','126,93','126,93'];
const dnaTagValues = ['0,00','0,00','0,00','\u22121,00','\u22121,00'];
const momTagValues = ['\u22120,50','\u22121,50','\u22121,50'];

// palette
const RED = '#EA3323', LIME = '#75FB4C', BLUE = '#0000F5', MAGENTA = '#EA33F7', GRAY = '#8E8E8E';
const CYAN = '#6EE8FD', YELLOW = '#FFFD55', ORANGE = '#F2A257', DARKGREEN = '#377D22', MIDGREEN = '#5FAE7E';
const TEAL = '#43957F', WICKRED = '#DD4444', DARKRED = '#8A302D', PINK = '#EE8AE6', AMBER = '#F7C744';
const DNACYAN = '#73FBFD', ROYAL = '#3E64F5';

Chart.defaults.font.family = 'Inter';

const pts = pairs => pairs.map(([x, y]) => ({ x, y }));
const X_MIN = -0.282, X_MAX = 232.46;

function xScale() {
  return {
    type: 'linear', min: X_MIN, max: X_MAX, offset: false,
    ticks: { display: false },
    border: { display: false },
    // bar datasets would otherwise move these lines between the ticks
    grid: { color: '#f1f1f1', lineWidth: 2, drawTicks: false, offset: false },
    afterBuildTicks: s => { s.ticks = barGrid.map(value => ({ value })); }
  };
}

function yScale(min, max, gridValues) {
  return {
    type: 'linear', min, max,
    ticks: { display: false },
    border: { display: false },
    grid: { color: '#f1f1f1', lineWidth: 2, drawTicks: false },
    afterBuildTicks: s => { s.ticks = gridValues.map(value => ({ value })); }
  };
}

function baseOptions(yMin, yMax, gridValues) {
  return {
    responsive: false,
    animation: false,
    events: [],
    layout: { padding: 0, autoPadding: false },
    plugins: { legend: { display: false }, tooltip: { enabled: false } },
    scales: { x: xScale(), y: yScale(yMin, yMax, gridValues) }
  };
}

function lineSet(pairs, color, width, order, extra) {
  return Object.assign({
    type: 'line', data: pts(pairs), borderColor: color, borderWidth: width,
    pointRadius: 0, tension: 0, fill: false, order
  }, extra || {});
}

function dotSet(pairs, color, radius, order, extra) {
  return Object.assign({
    type: 'scatter', data: pts(pairs), backgroundColor: color, borderWidth: 0,
    pointRadius: radius, pointHoverRadius: radius, order
  }, extra || {});
}

function ringSet(pairs, color, radius, width, order) {
  return dotSet(pairs, '#ffffff', radius, order, { borderColor: color, borderWidth: width });
}

// ---- price pane
function drawMain() {
  const bars = candleKind.map((k, i) => i).filter(i => candleHigh[i] !== null);
  const isTeal = i => 'LBT'.includes(candleKind[i]);
  const fillOf = { L: LIME, B: '#000000', T: RED, R: RED, K: '#000000', M: LIME };

  const wicks = {
    type: 'bar', grouped: false, barThickness: 2.5, order: 6,
    data: bars.map(i => ({ x: i, y: [candleLow[i], candleHigh[i]] })),
    backgroundColor: bars.map(i => isTeal(i) ? TEAL : WICKRED)
  };
  const bodies = {
    type: 'bar', grouped: false, barThickness: 7, order: 5, minBarLength: 3,
    borderWidth: 2, borderSkipped: false,
    data: bars.map(i => ({ x: i, y: [candleBottom[i], candleTop[i]] })),
    backgroundColor: bars.map(i => fillOf[candleKind[i]]),
    borderColor: bars.map(i => isTeal(i) ? TEAL : WICKRED)
  };

  const datasets = [
    // crosshair and last price sit on top
    lineSet([[crossBar, 133], [crossBar, 126]], GRAY, 2, -2, { borderDash: [8, 6] }),
    lineSet([[0.3, crossPrice], [232, crossPrice]], GRAY, 2, -2, { borderDash: [9, 6] }),
    lineSet([[X_MIN, lastPrice], [X_MAX, lastPrice]], RED, 2, -2, { borderDash: [2, 3] }),
    // markers
    dotSet(dotGraySmall, GRAY, 3, -1),
    dotSet(dotDarkRed, DARKRED, 6, 0),
    ringSet(ringOrange, ORANGE, 9.5, 6, 0),
    dotSet(dotRedBig, RED, 12, 0.5),
    dotSet(dotGrayBig, GRAY, 12, 0.5),
    ringSet(ringGreen, LIME, 9.5, 6, 0),
    dotSet(dotGreenBig, LIME, 12, 0),
    dotSet(dotOrangeBig, ORANGE, 12, 0),
    dotSet(dotGrayMid, GRAY, 6, 0),
    dotSet(dotCyan, CYAN, 8, 0),
    dotSet(dotYellow, YELLOW, 8, 0),
    dotSet(dotDarkGreen, DARKGREEN, 8, 0),
    dotSet(dotMidGreen, MIDGREEN, 8, 0),
    dotSet(dotMagenta, MAGENTA, 7, 0),
    dotSet(dotBlue, BLUE, 8, 0),
    dotSet(plusGreen, MIDGREEN, 9, 0, { pointStyle: 'cross', borderColor: MIDGREEN, borderWidth: 5 }),
    dotSet(plusRed, RED, 9, 0, { pointStyle: 'cross', borderColor: RED, borderWidth: 5 }),
    // candles
    bodies,
    wicks,
    // indicator lines
    lineSet(fastBlue, BLUE, 5, 7),
    lineSet(slowRed, RED, 5, 7),
    lineSet(thinRed, 'rgba(234,51,35,0.6)', 2.5, 9),
    lineSet(thinBlue, 'rgba(0,0,245,0.5)', 2.5, 9),
    lineSet(thinGreen, 'rgba(117,251,76,0.65)', 2.5, 9),
    lineSet(thinGray, '#C8C8C8', 2.5, 9),
    lineSet(cloudGreen, LIME, 3, 8),
  ];
  const greenIndex = datasets.length - 1;
  datasets.push(lineSet(cloudMagenta, MAGENTA, 3, 8, {
    fill: { target: greenIndex, above: 'rgba(234,51,247,0.12)', below: 'rgba(117,251,76,0.16)' }
  }));

  new Chart(document.getElementById('mainChart'), {
    type: 'scatter',
    data: { datasets },
    options: baseOptions(126.124, 132.864, priceGrid)
  });
}

// ---- ICE DNA pane
function drawDna() {
  const levelColors = [LIME, LIME, LIME, '#B7F5A5', '#CFCFCF', '#F8B0AB', '#F07F75', RED, RED];
  const datasets = dnaLevels.map((lv, k) =>
    lineSet([[X_MIN, lv], [X_MAX, lv]], levelColors[k], 2, -1, { borderDash: [9, 13] }));
  datasets.push(
    lineSet([[crossBar, 6], [crossBar, -5]], GRAY, 2, -1, { borderDash: [8, 6] }),
    dotSet(dnaGreenSmall, LIME, 4, 0),
    dotSet(dnaCyanSmall, DNACYAN, 4, 0),
    dotSet(dnaRedSmall, RED, 4, 0),
    dotSet(dnaGrayRing, GRAY, 7.5, 1, { borderColor: BLUE, borderWidth: 2 }),
    dotSet(dnaGray, GRAY, 8, 1),
    dotSet(dnaBlack, '#000000', 8.5, 2),
    dotSet(dnaBlue, BLUE, 8.5, 2),
    dotSet(dnaDarkGreen, DARKGREEN, 8.5, 2),
    dotSet(dnaGreen, LIME, 8.5, 3),
    dotSet(dnaOrange, AMBER, 8.5, 3),
    dotSet(dnaMagenta, MAGENTA, 8.5, 3),
    dotSet(dnaPink, PINK, 8.5, 3),
    dotSet(dnaRed, RED, 8.5, 3),
    dotSet(dnaCyan, DNACYAN, 8.5, 4)
  );
  new Chart(document.getElementById('dnaChart'), {
    type: 'scatter',
    data: { datasets },
    options: baseOptions(-4.96, 5.64, [4, 0, -4])
  });
}

// ---- momentum pane
function drawMomentum() {
  const allBars = candleKind.map((k, i) => i).filter(i => i <= momLastBar);
  const rowSet = (level, runs) => {
    const isRed = i => runs.some(([a, b]) => i >= a && i <= b);
    return dotSet(allBars.map(i => [i, level]), allBars.map(i => isRed(i) ? RED : LIME), 7.8, 2);
  };
  const dots = (bars, level, color) => dotSet(bars.map(i => [i, level]), color, 4, 1);
  const datasets = [
    lineSet([[crossBar, 0], [crossBar, -1.514]], GRAY, 2, 0, { borderDash: [8, 6] }),
    dots(momGreenDots1, momLevels[0], LIME), dots(momRedDots1, momLevels[0], RED),
    dots(momGreenDots2, momLevels[1], LIME), dots(momRedDots2, momLevels[1], RED),
    dots(momGreenDots3, momLevels[2], LIME), dots(momRedDots3, momLevels[2], RED),
    rowSet(momLevels[0], momRedRuns1),
    rowSet(momLevels[1], momRedRuns2),
    rowSet(momLevels[2], momRedRuns3)
  ];
  new Chart(document.getElementById('momChart'), {
    type: 'scatter',
    data: { datasets },
    options: baseOptions(-1.631, -0.084, momGrid)
  });
}

// ---- text and chrome around the charts
function addEl(html) {
  document.getElementById('overlay').insertAdjacentHTML('beforeend', html);
}

function tag(left, top, width, height, bg, color, text, pad) {
  addEl(`<div class="tag" style="left:${left}px;top:${top}px;width:${width}px;height:${height}px;background:${bg};color:${color};padding-left:${pad}px;line-height:${height}px">${text}</div>`);
}

function drawLabels() {
  // legend rows
  const legendColors = ['#C4C4C4', LIME, MAGENTA, BLUE, RED, LIME];
  const legendLefts = [4, 55, 155, 257, 357, 458];
  [166, 213].forEach(top => {
    legendValues.forEach((v, k) => {
      addEl(`<div class="legend" style="left:${legendLefts[k]}px;top:${top}px;color:${legendColors[k]}">${v}</div>`);
    });
    for (let k = 0; k < legendEmptyCount; k++) {
      addEl(`<div class="legend" style="left:${556 + k * 30.67}px;top:${top}px;width:18px;text-align:center;font-size:22px;letter-spacing:0;font-family:'DejaVu Sans';color:#111">\u2205</div>`);
    }
  });

  // stacked price tags on the right
  const tagBg = ['#0000F5', MAGENTA, MAGENTA, GRAY, GRAY, RED, RED, DARKRED, GRAY, DARKRED, GRAY, ORANGE, ORANGE, CYAN, CYAN, DARKGREEN, DARKGREEN, LIME, LIME, YELLOW, YELLOW, RED, RED, LIME, LIME, BLUE, BLUE, GRAY, GRAY, '#FFFFFF', LIME, '#FFFFFF', LIME];
  const blackText = ['#F2A257', CYAN, LIME, YELLOW, '#FFFFFF', '#C6C6C6', AMBER, DNACYAN];
  const ink = bg => blackText.includes(bg) ? '#000' : '#fff';
  let clip = '';
  tagValues.forEach((v, k) => {
    const top = 16 + (k - 1) * 34;
    const bg = tagBg[k];
    clip += `<div class="tag" style="left:0;top:${top}px;width:110px;height:34px;background:${bg};color:${ink(bg)};padding-left:19px">${v}</div>`;
  });
  addEl(`<div class="abs" style="left:1848px;top:36px;width:110px;height:1110px;overflow:hidden">${clip}</div>`);

  // red tag behind the live price
  tag(1848, 1163, 120, 62, RED, '#fff', '<span style="position:absolute;left:19px;top:0;line-height:34px">127,10</span><span style="position:absolute;left:111px;top:22px;line-height:34px">3</span>', 0);
  const lowerBg = ['#C6C6C6', '#C6C6C6', GRAY, GRAY, BLUE, BLUE];
  const lowerTops = [1223, 1257, 1292, 1326, 1360, 1394];
  lowerTagValues.forEach((v, k) => tag(1848, lowerTops[k], 110, 34, lowerBg[k], ink(lowerBg[k]), v, 19));
  tag(1848, 1181, 110, 42, '#0B0B0B', '#fff', '127,43', 19);
  addEl(`<div class="abs" style="left:1804px;top:1181px;width:44px;height:42px;background:#0B0B0B;border-radius:5px 0 0 5px">
    <svg width="44" height="42"><circle cx="21" cy="21" r="13" fill="none" stroke="#fff" stroke-width="2"/><path d="M21 13v16M13 21h16" stroke="#fff" stroke-width="2"/></svg></div>`);

  // ICE DNA tags
  const dnaBg = [AMBER, RED, DARKGREEN, DNACYAN, RED];
  const dnaTops = [1494, 1534, 1569, 1603, 1638];
  const dnaHeights = [40, 35, 34, 35, 31];
  const dnaWidths = [80, 80, 80, 94, 94];
  dnaTagValues.forEach((v, k) => {
    tag(1848, dnaTops[k], dnaWidths[k], dnaHeights[k], dnaBg[k], ink(dnaBg[k]), v, 16);
  });

  // momentum tags
  addEl(`<div class="abs" style="left:1848px;top:1669px;width:94px;height:18px;overflow:hidden;background:${LIME};border-radius:0 0 3px 3px"><div style="position:absolute;left:16px;top:-16px;line-height:34px;font-size:24.5px;color:#000">\u22120,50</div></div>`);
  const momBg = [ROYAL, ROYAL, LIME];
  const momTops = [1687, 1730, 1765];
  momTagValues.forEach((v, k) => tag(1848, momTops[k], 94, 35, momBg[k], ink(momBg[k]), v, 16));
  tag(1848, 1800, 94, 2, RED, '#fff', '', 0);

  // pane titles
  addEl(`<div class="abs" style="left:41px;top:1490px;font-size:23.5px;line-height:28px;color:#111">ICE DNA Code</div>`);
  addEl(`<div class="abs" style="left:6px;top:1516px;font-size:19px;line-height:24px;font-family:'DejaVu Sans';color:#111">\u2205</div>`);
  addEl(`<div class="abs" style="left:38px;top:1516px;font-size:19px;line-height:24px;font-family:'DejaVu Sans';color:#111">\u2205</div>`);
  addEl(`<div class="abs" style="left:0;top:1669px;width:300px;height:24px;overflow:hidden"><div style="position:absolute;left:0;top:-6px;font-size:24px;line-height:28px;color:#111;white-space:nowrap">mentum Status Indikator</div></div>`);

  // pane dividers and the small black rule at the bottom
  addEl(`<div class="abs" style="left:0;top:1492px;width:1848px;height:3px;background:#eeeeee"></div>`);
  addEl(`<div class="abs" style="left:0;top:1668px;width:1848px;height:3px;background:#eeeeee"></div>`);
  addEl(`<div class="abs" style="left:91px;top:1800px;width:188px;height:2px;background:#000"></div>`);

  // toolbar remains at the top edge
  addEl(`<div class="btn" style="left:1735px;top:-10px;width:47px;height:33px"><svg width="43" height="31"><path d="M21 3v16M13 12l8 8 8-8" fill="none" stroke="#222" stroke-width="2"/></svg></div>`);
  addEl(`<div class="btn" style="left:1791px;top:-10px;width:46px;height:33px"><svg width="42" height="31"><path d="M13 14v3a3 3 0 0 0 3 3h11a3 3 0 0 0 3-3v-3" fill="none" stroke="#222" stroke-width="2"/></svg></div>`);
  addEl(`<div class="btn" style="left:1855px;top:-10px;width:130px;height:37px"><div style="position:absolute;left:8px;top:-1px;font-size:21px;line-height:28px;color:#222">EUR</div><svg style="position:absolute;left:100px;top:4px" width="20" height="14"><path d="M2 4l5 5 5-5" fill="none" stroke="#222" stroke-width="2"/></svg></div>`);

  // lightning badge
  addEl(`<svg class="abs" style="left:1576px;top:1444px" width="44" height="44">
    <circle cx="22" cy="22" r="19" fill="#fff" stroke="#8E3BA8" stroke-width="3"/>
    <path d="M25 10l-10 14h7l-3 10 10-14h-7z" fill="#8E3BA8"/>
    <circle cx="35" cy="8" r="5" fill="#E8402E" stroke="#fff" stroke-width="1"/></svg>`);
}

drawMain();
drawDna();
drawMomentum();
drawLabels();
</script>
</body>
</html>
